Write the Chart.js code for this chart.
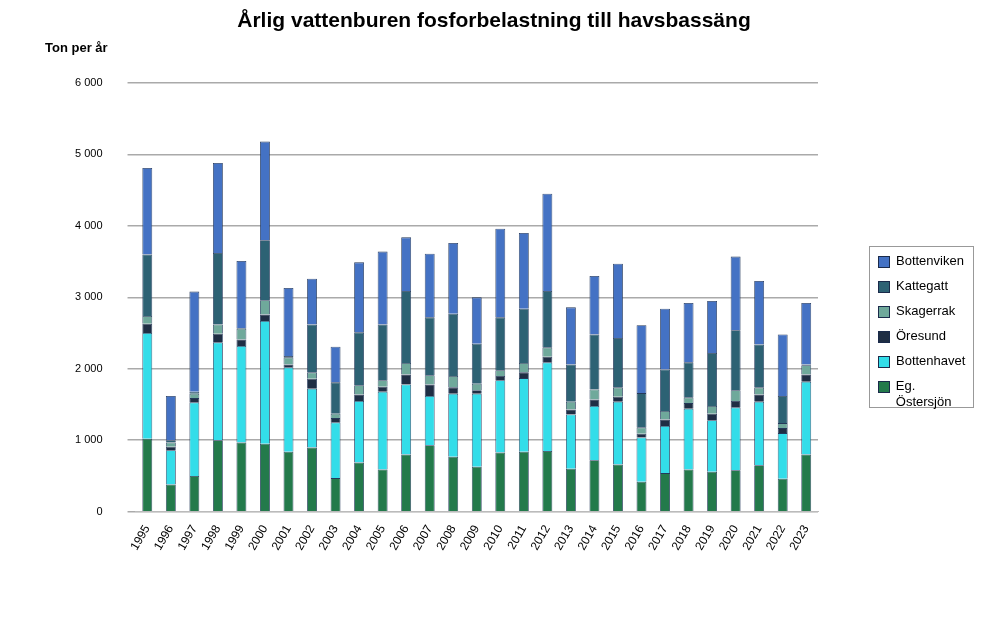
<!DOCTYPE html>
<html><head><meta charset="utf-8">
<script src="https://cdn.jsdelivr.net/npm/chart.js@4"></script>
<style>body{margin:0;background:#fff}#w{position:relative;width:988px;height:619px}
#t{position:absolute;left:0;width:988px;top:8px;text-align:center;font:bold 21px Arial,"Liberation Sans";color:#000}
#y{position:absolute;left:45px;top:40px;font:bold 13px Arial,"Liberation Sans"}
#lg{position:absolute;left:869px;top:246px;width:105px;border:1px solid #999;padding:6px 0 4px 8px;box-sizing:border-box;font:13px Arial,"Liberation Sans"}
#lg div{height:25px;line-height:16px;display:flex;align-items:flex-start}
#lg span{display:inline-block;width:10px;height:10px;margin:3px 6px 0 0;border:1px solid #1a2a4a}</style></head>
<body><div id="w"><div id="t">Årlig vattenburen fosforbelastning till havsbassäng</div><div id="y">Ton per år</div><canvas id="c" width="988" height="619"></canvas><div id="lg"></div></div>
<script>
const years=[1995,1996,1997,1998,1999,2000,2001,2002,2003,2004,2005,2006,2007,2008,2009,2010,2011,2012,2013,2014,2015,2016,2017,2018,2019,2020,2021,2022,2023].map(String);
const egOstersjon=[1020,380,500,1000,970,950,840,900,470,690,590,800,930,770,630,830,840,850,600,720,660,420,540,590,560,580,650,460,800];
const bottenhavet=[1480,480,1030,1370,1350,1720,1180,820,780,860,1090,980,690,880,1020,1010,1030,1240,760,760,880,620,660,850,720,880,890,640,1020];
const oresund=[130,50,60,120,90,90,40,140,60,90,70,140,160,90,50,60,80,80,70,90,70,50,90,80,90,90,100,70,100];
const skagerrak=[110,60,60,130,150,200,100,90,60,130,90,160,130,160,90,80,130,130,110,140,130,90,120,80,110,150,100,70,130];
const kattegatt=[860,30,30,1000,10,840,20,670,440,740,780,1010,810,870,560,740,760,790,520,770,690,480,580,490,740,840,600,380,10];
const bottenviken=[1210,620,1400,1260,940,1380,950,640,500,980,1020,750,890,990,650,1240,1060,1360,800,820,1040,950,850,830,730,1030,890,860,860];
const yTicks=[0,1000,2000,3000,4000,5000,6000];
const ds=(l,d,c)=>({label:l,data:d,backgroundColor:c,borderColor:'#24385a',borderWidth:0.8,barPercentage:0.84,categoryPercentage:0.5});
const sets=[ds('Eg. Östersjön',egOstersjon,'#237a4b'),ds('Bottenhavet',bottenhavet,'#33dde9'),ds('Öresund',oresund,'#1f2e44'),
ds('Skagerrak',skagerrak,'#6fa99b'),ds('Kattegatt',kattegatt,'#2d6274'),ds('Bottenviken',bottenviken,'#4472c4')];
document.getElementById('lg').innerHTML=sets.slice().reverse().map(s=>`<div><span style="background:${s.backgroundColor}"></span>${s.label}</div>`).join('');
new Chart(document.getElementById('c'),{type:'bar',data:{labels:years,datasets:sets},
options:{responsive:false,animation:false,layout:{padding:{left:50,top:83,right:170,bottom:63}},
plugins:{legend:{display:false},tooltip:{enabled:false}},
scales:{x:{stacked:true,grid:{display:false},border:{color:'#bbb'},ticks:{color:'#000',maxRotation:60,minRotation:60,font:{size:12,family:'Arial'}}},
y:{stacked:true,min:0,max:6000,afterBuildTicks:a=>{a.ticks=yTicks.map(v=>({value:v}))},grid:{color:'#aaa',lineWidth:1.5},border:{display:false},
ticks:{color:'#000',padding:25,font:{size:11,family:'Arial'},callback:v=>String(v).replace(/\B(?=(\d{3})+$)/g,' ')}}}}});
</script></body></html>
